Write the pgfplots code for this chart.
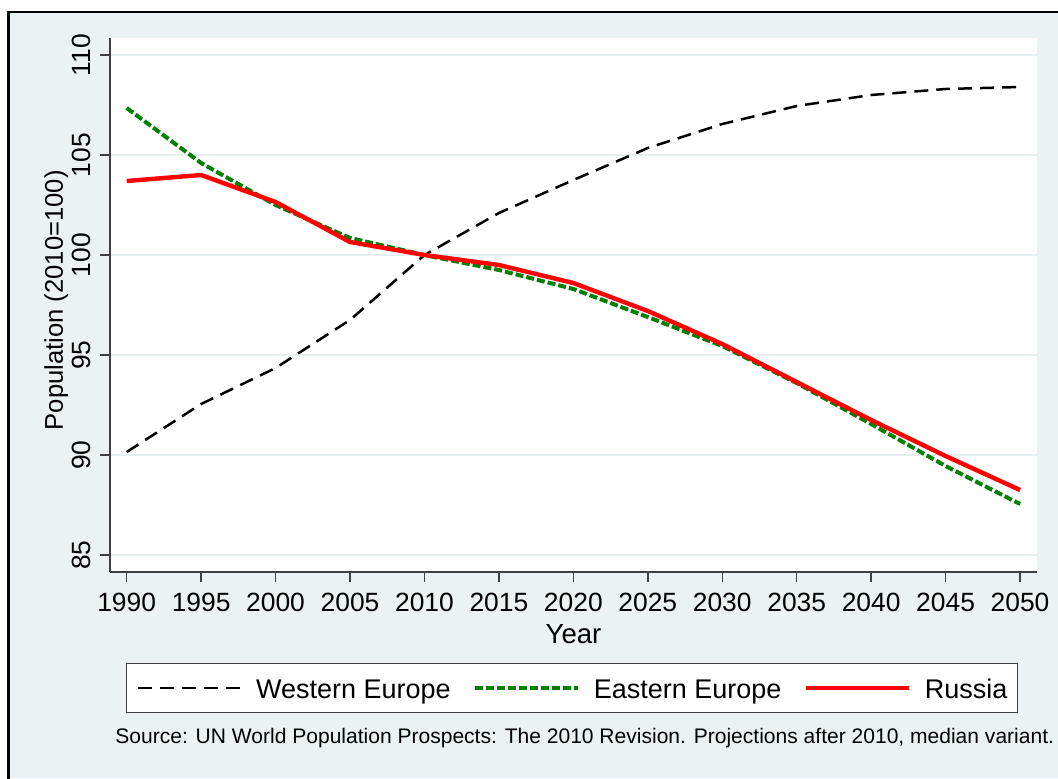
\documentclass[border=0pt]{standalone}
\usepackage{fontspec}
\setmainfont{Liberation Sans}
\usepackage{pgfplots}
\usepackage{pgfplotstable}
\pgfplotsset{compat=1.18}

\definecolor{bgc}{HTML}{EAF2F3}
\definecolor{gridc}{HTML}{E6EEF0}
\definecolor{axisc}{HTML}{404040}
\definecolor{stgreen}{RGB}{0,128,0}

% population index, 2010 = 100
\pgfplotstableread{
year  west    east    russia
1990  90.15   107.35  103.70
1995  92.55   104.60  104.00
2000  94.35   102.50  102.65
2005  96.75   100.85  100.65
2010  100.00  100.00  100.00
2015  102.10  99.25   99.50
2020  103.75  98.30   98.60
2025  105.35  96.90   97.20
2030  106.55  95.45   95.55
2035  107.45  93.60   93.65
2040  108.00  91.55   91.75
2045  108.30  89.45   89.95
2050  108.40  87.55   88.25
}\popdata

\begin{document}
\begin{tikzpicture}
  \path[use as bounding box] (0,0) rectangle (529pt,389pt);
  \fill[white] (0,0) rectangle (529pt,389pt);
  \fill[bgc] (4.3pt,0) rectangle (529pt,383pt);
  \draw[black, line width=1.3pt] (4.3pt,-2pt) -- (4.3pt,383pt) -- (531pt,383pt);

  \begin{axis}[
    at={(55pt,103pt)}, anchor=south west,
    scale only axis,
    width=463.5pt, height=267pt,
    xmin=1988.88, xmax=2051.14,
    ymin=84.15, ymax=110.85,
    axis lines*=left,
    axis line style={axisc, line width=0.7pt},
    axis background/.style={fill=white},
    xtick={1990,1995,...,2050},
    ytick={85,90,...,110},
    tick align=outside,
    major tick length=5pt,
    tick style={axisc, line width=0.7pt},
    ymajorgrids,
    grid style={gridc, line width=1pt},
    /pgf/number format/1000 sep={},
    /pgf/number format/assume math mode=true,
    xticklabel style={anchor=base, yshift=-14.5pt, font=\fontsize{13.2}{15}\selectfont},
    yticklabel style={xshift=-5pt, rotate=90, anchor=base, font=\fontsize{13.2}{15}\selectfont},
    xlabel={Year},
    xlabel style={at={(axis description cs:0.5,-0.133)}, anchor=base, font=\fontsize{13.8}{15}\selectfont},
    ylabel={Population (2010=100)},
    ylabel style={at={(axis description cs:-0.0507,0.509)}, anchor=base, rotate=0, font=\fontsize{12.8}{14}\selectfont},
    legend columns=3,
    legend image code/.code={\draw[#1] (0pt,0pt) -- (51.5pt,0pt);},
    legend style={
      at={(axis description cs:0.4984,-0.2172)}, anchor=center,
      draw=axisc, line width=0.6pt, fill=white,
      inner xsep=5pt, inner ysep=4.5pt,
      font=\fontsize{13.5}{15}\selectfont,
      nodes={inner sep=0pt, text height=13pt, text depth=2.5pt},
      /tikz/every odd column/.append style={column sep=7pt},
      /tikz/every even column/.append style={column sep=11pt},
    },
  ]
    \addplot[black, line width=1.25pt, dash pattern=on 7pt off 4pt] table[x=year, y=west] {\popdata};
    \addlegendentry{Western Europe}
    \addplot[stgreen, line width=2pt, dash pattern=on 4pt off 1.5pt] table[x=year, y=east] {\popdata};
    \addlegendentry{Eastern Europe}
    \addplot[red, line width=2.2pt] table[x=year, y=russia] {\popdata};
    \addlegendentry{Russia}
  \end{axis}

  \node[anchor=base west, inner sep=0pt, font=\fontsize{10.52}{12}\selectfont] at (57.5pt,17.5pt)
    {Source: UN World Population Prospects: The 2010 Revision. Projections after 2010, median variant.};
\end{tikzpicture}
\end{document}
